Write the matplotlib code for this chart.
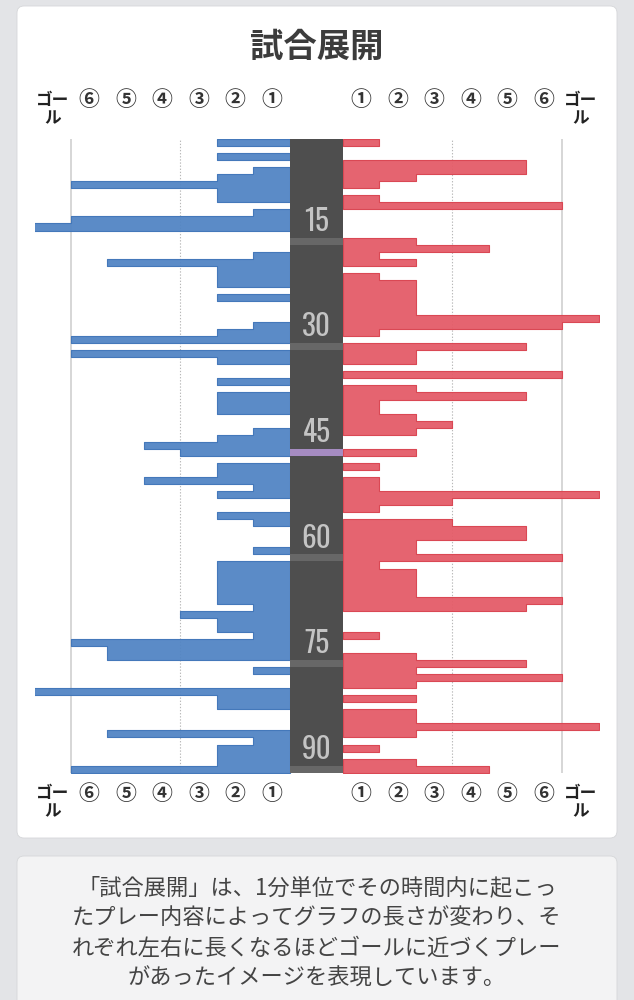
import matplotlib
matplotlib.use('Agg')
import matplotlib.pyplot as plt
import matplotlib.transforms as mtransforms
from matplotlib.patches import FancyBboxPatch
from matplotlib import font_manager as fm
import numpy as np

# ---------------- data ----------------
minutes = list(range(1, 91))
home_levels = [2, 0, 2, 0, 1, 2, 6, 2, 2, 0,
               1, 6, 7, 0, 0, 0, 1, 5, 2, 2,
               2, 0, 2, 0, 0, 0, 1, 2, 6, 0,
               6, 2, 0, 0, 2, 0, 2, 2, 2, 0,
               0, 1, 2, 4, 3, 0, 2, 2, 4, 1,
               2, 0, 0, 2, 1, 0, 0, 0, 1, 0,
               2, 2, 2, 2, 2, 2, 1, 3, 2, 2,
               1, 6, 5, 5, 0, 1, 0, 0, 7, 2,
               2, 0, 0, 0, 5, 1, 2, 2, 2, 6]
away_levels = [1, 0, 0, 5, 5, 2, 1, 0, 1, 6,
               0, 0, 0, 0, 2, 4, 1, 2, 0, 1,
               2, 2, 2, 2, 2, 7, 6, 1, 0, 5,
               2, 2, 0, 6, 0, 2, 5, 1, 1, 2,
               3, 2, 0, 0, 2, 0, 1, 0, 1, 1,
               7, 3, 1, 0, 3, 5, 5, 2, 2, 6,
               1, 2, 2, 2, 2, 6, 5, 0, 0, 0,
               1, 0, 0, 2, 5, 2, 6, 2, 0, 2,
               0, 2, 2, 7, 2, 0, 1, 0, 2, 4]
level_labels = ['①', '②', '③', '④', '⑤', '⑥', 'ゴー\nル']
minute_marks = [15, 30, 45, 60, 75, 90]
title = '試合展開'
note_lines = ['「試合展開」は、1分単位でその時間内に起こっ',
              'たプレー内容によってグラフの長さが変わり、そ',
              'れぞれ左右に長くなるほどゴールに近づくプレー',
              'があったイメージを表現しています。']

# ---------------- fonts ----------------
JP = ['Noto Sans CJK JP', 'DejaVu Sans']
avail = sorted({f.name for f in fm.fontManager.ttflist})
narrow = 'DejaVu Sans'
for cand in ['Oswald', 'Bebas Neue', 'Fjalla One', 'Roboto Condensed']:
    if cand in avail:
        narrow = cand
        break

W, H = 634, 1000
fig = plt.figure(figsize=(W / 100, H / 100), dpi=100)
fig.patch.set_facecolor('#e3e4e7')

def inch_box(x0, y0, x1, y1, **kw):
    p = FancyBboxPatch((x0 / 100, (H - y1) / 100), (x1 - x0) / 100, (y1 - y0) / 100,
                       boxstyle='round,pad=0,rounding_size=0.07',
                       transform=fig.dpi_scale_trans, zorder=-10, **kw)
    fig.patches.append(p)

inch_box(17, 6, 617, 838, facecolor='#ffffff', edgecolor='#d5d6d9', lw=0.6)
inch_box(17, 856, 617, 1010, facecolor='#f3f3f4', edgecolor='#d5d6d9', lw=0.6)

# ---------------- main axes ----------------
c = 26.5 / 36.5   # half width of the centre column in level units
x_left, x_right, y_top, y_bot = 34.5, 598.5, 139, 772.7
ax = fig.add_axes([x_left / W, 1 - y_bot / H, (x_right - x_left) / W, (y_bot - y_top) / H])
ax.set_zorder(1)
ax.set_xlim(-(c + 7), c + 7)
ax.set_ylim(len(minutes), 0)
ax.set_facecolor('white')
for s in ax.spines.values():
    s.set_visible(False)
ax.set_xticks([])
ax.set_yticks([])

for sgn in (-1, 1):
    ax.axvline(sgn * (c + 3), color='#b8b8b8', lw=0.8, ls=(0, (1.2, 1.6)), zorder=1)
    ax.axvline(sgn * (c + 6), color='#cfcfcf', lw=1.2, zorder=1)

def draw_side(levels, sgn, face, edge):
    lv = np.asarray(levels, dtype=float)
    i = 0
    n = len(lv)
    while i < n:
        if lv[i] > 0:
            j = i
            while j + 1 < n and lv[j + 1] > 0:
                j += 1
            y = np.arange(i, j + 2)
            xv = np.append(lv[i:j + 1], lv[j])
            ax.fill_betweenx(y, sgn * c, sgn * (c + xv), step='post',
                             facecolor=face, edgecolor=edge, lw=0.8, alpha=0.95, zorder=3)
            i = j + 1
        else:
            i += 1

draw_side(home_levels, -1, '#5285c4', '#3f74b8')
draw_side(away_levels, 1, '#e45c68', '#d9434f')

# centre column
ax.axvspan(-c, c, color='#4e4e4e', zorder=4, lw=0)
for m in minute_marks:
    col = '#a68cc2' if m == 45 else '#676767'
    ax.barh(m - 0.5, 2 * c, left=-c, height=1, color=col, zorder=5, lw=0)
    ax.text(0, m - 3.3, str(m), ha='center', va='center', color='#c4c4c4',
            fontsize=21, fontweight='bold', family=narrow, zorder=6)

# ---------------- level labels ----------------
tr = mtransforms.blended_transform_factory(ax.transData, fig.transFigure)
for ypx in (100, 793):
    for sgn in (-1, 1):
        for i, lab in enumerate(level_labels):
            xpos = sgn * (c + i + 0.5)
            if i < 6:
                ax.text(xpos, 1 - ypx / H, lab, transform=tr, ha='center', va='center',
                        fontsize=15, fontweight='bold', color='#333333', family=JP,
                        clip_on=False)
            else:
                ax.text(xpos, 1 - (ypx - 9) / H, lab, transform=tr, ha='center', va='top',
                        fontsize=12, fontweight='bold', color='#222222', family=JP,
                        linespacing=1.05, clip_on=False)

# ---------------- title & note ----------------
fig.text(317 / W, 1 - 47 / H, title, ha='center', va='center', fontsize=24,
         fontweight='bold', color='#3c3c3c', family=JP)
for k, line in enumerate(note_lines):
    fig.text(317 / W, 1 - (888 + 30 * k) / H, line, ha='center', va='center',
             fontsize=16, color='#444444', family=JP)

fig.savefig('out.png', dpi=100, facecolor=fig.get_facecolor())
